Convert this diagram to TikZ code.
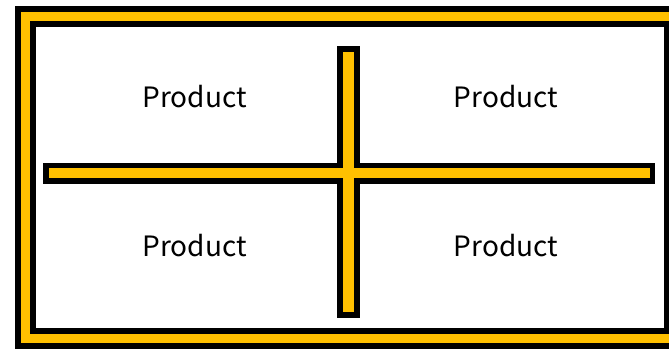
\documentclass[tikz,border=0pt]{standalone}
\usepackage{fontspec}
\setmainfont{Noto Sans CJK JP}
\usetikzlibrary{positioning}

\begin{document}
\begin{tikzpicture}[x=1pt, y=-1pt]
        \definecolor{baryellow}{RGB}{255,192,0}

        \tikzset{
            label/.style={anchor=base, inner sep=0pt, font=\fontsize{28}{30}\selectfont},
            outline/.style={draw=black, line width=21pt},
            core/.style={draw=baryellow, line width=9pt}
        }

        % Fix the page to the reference size
        \useasboundingbox (0,0) rectangle (669,348);

        % Frame corners (the right side runs off the page)
        \coordinate (frame-tl) at (25,16);
        \coordinate (frame-br) at (674,338);

        % Draw the frame: black first, yellow on top
        \draw[outline] (frame-tl) rectangle (frame-br);
        \draw[core] (frame-tl) rectangle (frame-br);

        % Bar corners
        \coordinate (vbar-tl) at (337,46);
        \coordinate (vbar-br) at (360,318);
        \coordinate (hbar-tl) at (43,163);
        \coordinate (hbar-br) at (655,184);

        % Black of both bars first, then yellow so the crossing stays clean
        \fill[black] (vbar-tl) rectangle (vbar-br);
        \fill[black] (hbar-tl) rectangle (hbar-br);
        \fill[baryellow] ([shift={(6,6)}]vbar-tl) rectangle ([shift={(-6,-6)}]vbar-br);
        \fill[baryellow] ([shift={(6,5)}]hbar-tl) rectangle ([shift={(-5,-6)}]hbar-br);

        % Labels in the four quarters
        \node[label] (prod-tl) at (194.5,107) {Product};
        \node[label] (prod-tr) at (506,107) {Product};
        \node[label] (prod-bl) at (194.5,256) {Product};
        \node[label] (prod-br) at (506,256) {Product};
    \end{tikzpicture}
\end{document}
